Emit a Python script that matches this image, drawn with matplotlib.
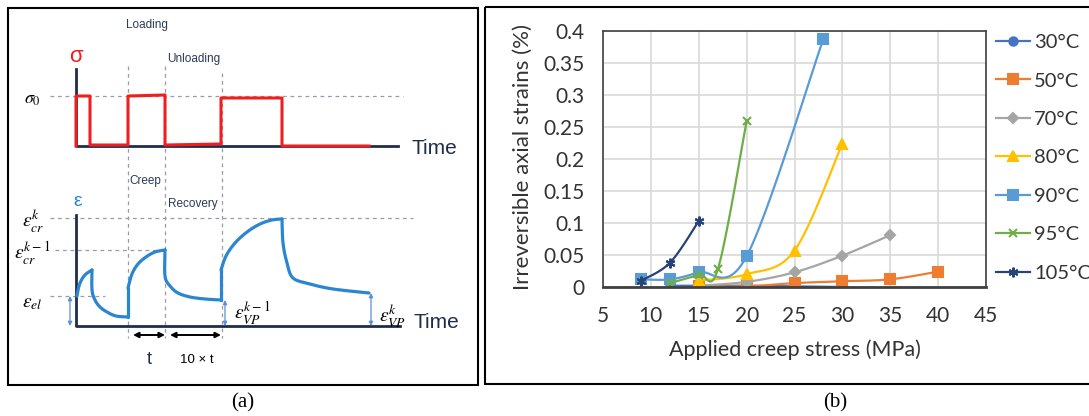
import matplotlib.pyplot as plt
import numpy as np
from matplotlib.patches import Rectangle
from matplotlib.lines import Line2D

# ---- panel (b) data: applied creep stress (MPa) vs irreversible axial strain (%)
temps = ['30°C', '50°C', '70°C', '80°C', '90°C', '95°C', '105°C']
x_30 = [12, 15, 20, 25, 30]
y_30 = [0.002, 0.002, 0.002, 0.001, 0.0]
x_50 = [15, 20, 25, 30, 35, 40]
y_50 = [0.001, 0.001, 0.006, 0.009, 0.012, 0.024]
x_70 = [15, 20, 25, 30, 35]
y_70 = [0.002, 0.008, 0.023, 0.049, 0.081]
x_80 = [15, 20, 25, 30]
y_80 = [0.010, 0.020, 0.057, 0.224]
x_90 = [9, 12, 15, 20, 28]
y_90 = [0.012, 0.012, 0.023, 0.048, 0.387]
x_95 = [12, 15, 17, 20]
y_95 = [0.006, 0.019, 0.028, 0.259]
x_105 = [9, 12, 15]
y_105 = [0.010, 0.038, 0.103]
colors = ['#4472c4', '#ed7d31', '#a5a5a5', '#ffc000', '#5b9bd5', '#70ad47', '#264478']
markers = ['o', 's', 'D', '^', 's', 'x', (6, 2, 0)]
msizes = [6, 6.5, 5, 7, 6.5, 6, 7]

# ---- panel (a) schematic, drawn in panel pixel units
sig_t = [76, 76, 90, 90, 128, 128, 165, 165, 221, 221, 282, 282, 369]
sig_y = [146, 96, 96, 145, 145, 96, 95, 145, 144, 98, 98, 146, 146]
eps_segments = [
    [(77, 296), (79, 286), (82, 279), (86, 274), (92, 270)],
    [(92, 270), (92, 290), (95, 300), (100, 307), (107, 312), (116, 316), (128, 317)],
    [(128, 317), (128, 288)],
    [(128, 288), (132, 274), (138, 264), (146, 257), (155, 252), (165, 250)],
    [(165, 250), (165, 276), (170, 286), (178, 293), (190, 297), (205, 299), (221, 300)],
    [(221, 300), (221, 270)],
    [(221, 270), (226, 256), (235, 243), (247, 232), (260, 224), (272, 220), (282, 219)],
    [(282, 219), (283, 243), (287, 263), (293, 278), (310, 284), (333, 289), (369, 293)],
]


def smooth(x, y, sx=1.0, sy=1.0, n=24):
    p = np.column_stack([np.asarray(x, float) * sx, np.asarray(y, float) * sy])
    if len(p) < 3:
        return np.asarray(x), np.asarray(y)
    ext = np.vstack([p[0], p, p[-1]])
    t = np.linspace(0, 1, n)[:, None]
    out = []
    for i in range(len(p) - 1):
        p0, p1, p2, p3 = ext[i], ext[i + 1], ext[i + 2], ext[i + 3]
        c1 = p1 + (p2 - p0) / 6
        c2 = p2 - (p3 - p1) / 6
        seg = (1 - t) ** 3 * p1 + 3 * (1 - t) ** 2 * t * c1 + 3 * (1 - t) * t ** 2 * c2 + t ** 3 * p2
        out.append(seg if i == 0 else seg[1:])
    out = np.vstack(out)
    return out[:, 0] / sx, out[:, 1] / sy


plt.rcParams['mathtext.fontset'] = 'stix'
fig = plt.figure(figsize=(10.89, 4.16), dpi=100)
bg = fig.add_axes([0, 0, 1, 1])
bg.set_xlim(0, 1089)
bg.set_ylim(416, 0)
bg.axis('off')

bg.add_patch(Rectangle((8, 8), 470, 377, fill=False, lw=1.5, ec='black'))
bg.add_patch(Rectangle((485, 7), 620, 377, fill=False, lw=1.5, ec='black'))

navy = '#1f2d4d'
txt = '#2b3a58'
dash = dict(ls=(0, (3, 3)), color='#9a9aa8', lw=0.9)
sans = 'Liberation Sans'

# guides
bg.plot([50, 403], [96, 96], **dash)
bg.plot([128, 128], [66, 338], **dash)
bg.plot([165, 165], [66, 338], **dash)
bg.plot([222, 222], [73, 338], **dash)
bg.plot([50, 413], [218, 218], **dash)
bg.plot([55, 165], [250, 250], **dash)
bg.plot([50, 105], [296, 296], **dash)

# axes of the schematic
bg.plot([76, 76, 398], [69, 146, 146], color=navy, lw=2)
bg.plot([76, 76, 400], [215, 326, 326], color=navy, lw=2)

bg.plot(sig_t, sig_y, color='#f01e1e', lw=2.2)
for seg in eps_segments:
    sx_, sy_ = zip(*seg)
    xs, ys = smooth(sx_, sy_)
    bg.plot(xs, ys, color='#2a86d0', lw=2.3, solid_capstyle='round')

small = dict(arrowstyle='<|-|>', color='#5b8fd8', lw=0.9, mutation_scale=6, shrinkA=0, shrinkB=0)
bg.annotate('', xy=(70, 296), xytext=(70, 326), arrowprops=small)
bg.annotate('', xy=(225, 300), xytext=(225, 326), arrowprops=small)
bg.annotate('', xy=(371, 293), xytext=(371, 326), arrowprops=small)
big = dict(arrowstyle='<|-|>', color='black', lw=1.4, mutation_scale=8, shrinkA=0, shrinkB=0)
bg.annotate('', xy=(133, 335), xytext=(165, 335), arrowprops=big)
bg.annotate('', xy=(170, 335), xytext=(221, 335), arrowprops=big)

bg.text(126, 25, 'Loading', fontsize=8.5, color=txt, family=sans, va='center')
bg.text(167, 59, 'Unloading', fontsize=8.5, color=txt, family=sans, va='center')
bg.text(129, 181, 'Creep', fontsize=8.5, color=txt, family=sans, va='center')
bg.text(168, 204, 'Recovery', fontsize=8.5, color=txt, family=sans, va='center')
bg.text(69, 56, 'σ', fontsize=16, color='#f01e1e', family=sans, va='center')
bg.text(73, 201, 'ε', fontsize=14, color='#2a86d0', family=sans, va='center')
bg.text(411, 148, 'Time', fontsize=15, color=navy, family=sans, va='center')
bg.text(413, 323, 'Time', fontsize=15, color=navy, family=sans, va='center')
bg.text(24, 99, r'$\sigma_0$', fontsize=13, va='center')
bg.text(22, 221, r'$\varepsilon_{cr}^{k}$', fontsize=14, va='center')
bg.text(14, 253, r'$\varepsilon_{cr}^{k-1}$', fontsize=14, va='center')
bg.text(22, 302, r'$\varepsilon_{el}$', fontsize=14, va='center')
bg.text(234, 313, r'$\varepsilon_{VP}^{k-1}$', fontsize=14, va='center')
bg.text(379, 316, r'$\varepsilon_{VP}^{k}$', fontsize=14, va='center')
bg.text(149, 360, 't', fontsize=13, color=navy, family=sans, ha='center', va='center')
bg.text(197, 360, '10 × t', fontsize=9.5, color='black', family=sans, ha='center', va='center')
bg.text(243, 403, '(a)', fontsize=15, family='Liberation Serif', ha='center', va='center')
bg.text(835, 403, '(b)', fontsize=15, family='Liberation Serif', ha='center', va='center')

# ---- panel (b)
ax = fig.add_axes([603 / 1089, (416 - 287) / 416, 383 / 1089, 256 / 416])
ax.set_xlim(5, 45)
ax.set_ylim(0, 0.4)
ax.set_xticks(range(5, 50, 5))
yt = np.arange(0, 0.401, 0.05)
ax.set_yticks(yt)
ax.set_yticklabels([f'{v:g}' for v in yt])
ax.grid(color='#d9d9d9', lw=1.2)
ax.set_axisbelow(True)
for s in ax.spines.values():
    s.set_color('#404040')
    s.set_linewidth(1.2)
ax.spines['bottom'].set_linewidth(2)
ax.tick_params(length=0, labelsize=15, colors='#333333')
ax.tick_params(axis='y', pad=13)
ax.tick_params(axis='x', pad=14)
for lab in ax.get_xticklabels() + ax.get_yticklabels():
    lab.set_family('Lato')

sx = 383 / 40
sy = 256 / 0.4
xs_all = [x_30, x_50, x_70, x_80, x_90, x_95, x_105]
ys_all = [y_30, y_50, y_70, y_80, y_90, y_95, y_105]
handles = []
for xv, yv, c, m, ms in zip(xs_all, ys_all, colors, markers, msizes):
    cx, cy = smooth(xv, yv, sx, sy)
    ax.plot(cx, cy, color=c, lw=1.6)
    ax.plot(xv, yv, ls='none', marker=m, ms=ms, color=c, mew=1.5)
    handles.append(Line2D([], [], color=c, lw=1.6, marker=m, ms=ms, mew=1.5))

bg.text(523, 157, 'Irreversible axial strains (%)', rotation=90, fontsize=16,
        family='Lato', color='#333333', ha='center', va='center')
bg.text(795, 350, 'Applied creep stress (MPa)', fontsize=15.5, family='Lato',
        color='#333333', ha='center', va='center')

fig.legend(handles, temps, loc='upper left', bbox_to_anchor=(996, 34),
           bbox_transform=bg.transData, frameon=False, handlelength=1.7,
           handletextpad=0.2, labelspacing=1.06, borderpad=0, borderaxespad=0,
           prop={'family': 'Lato', 'size': 14.5}, labelcolor='#333333')

fig.savefig('out.png', dpi=100)
